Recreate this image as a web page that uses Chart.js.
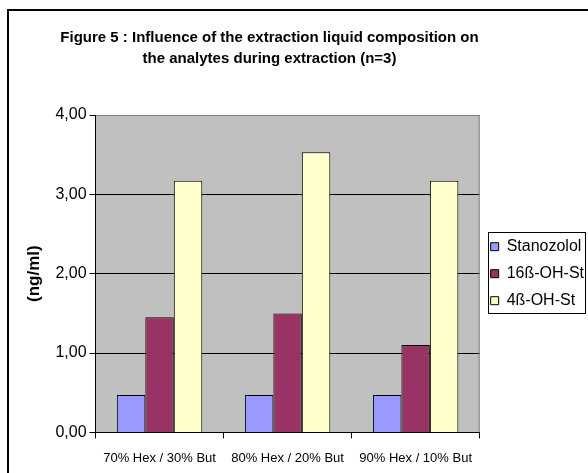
<!DOCTYPE html>
<html>
<head>
<meta charset="utf-8">
<script src="https://cdn.jsdelivr.net/npm/chart.js@4.4.1/dist/chart.umd.min.js"></script>
<style>
  html, body { margin: 0; padding: 0; background: #fff; overflow: hidden; width: 588px; height: 473px; }
  #wrap { position: relative; width: 588px; height: 473px; overflow: hidden; }
  #frame { position: absolute; left: 7px; top: 9px; width: 700px; height: 600px;
           border-left: 2px solid #000; border-top: 2px solid #000; }
  canvas { position: absolute; left: 0; top: 0; }
</style>
</head>
<body>
<div id="wrap">
  <div id="frame"></div>
  <canvas id="c" width="594" height="478"></canvas>
</div>
<script>
// Extraction liquid compositions (x categories)
const categories = ['70% Hex / 30% But', '80% Hex / 20% But', '90% Hex / 10% But'];

// Measured concentrations, ng/ml
const stanozolol = [0.47, 0.47, 0.47];
const oh16 = [1.45, 1.50, 1.10];
const oh4 = [3.17, 3.53, 3.17];

const seriesNames = ['Stanozolol', '16ß-OH-St', '4ß-OH-St'];
const seriesColors = ['#9999FF', '#993366', '#FFFFCC'];

const titleLines = ['Figure 5 : Influence of the extraction liquid composition on',
                    'the analytes during extraction (n=3)'];
const yAxisTitle = '(ng/ml)';
const yMin = 0, yMax = 4, yStep = 1;

const fmtComma = v => Number(v).toFixed(2).replace('.', ',');
const SANS = "'Liberation Sans', Arial, sans-serif";

// Grey plot area, its grey right edge, and the box round the legend
const plotFrame = {
  id: 'plotFrame',
  afterLayout(chart) {
    // centre the title over the chart object rather than the whole canvas
    chart.titleBlock.left = 8;
    chart.titleBlock.right = 531;
  },
  beforeDraw(chart) {
    const { ctx, chartArea: a } = chart;
    ctx.save();
    ctx.fillStyle = '#C0C0C0';
    ctx.fillRect(a.left, a.top, a.width, a.height);
    ctx.restore();
  },
  beforeDatasetsDraw(chart) {
    const { ctx, chartArea: a } = chart;
    ctx.save();
    ctx.strokeStyle = '#808080';
    ctx.lineWidth = 1;
    ctx.beginPath();
    ctx.moveTo(a.right - 0.5, a.top);
    ctx.lineTo(a.right - 0.5, a.bottom);
    ctx.stroke();
    ctx.restore();
  },
  afterDraw(chart) {
    const hb = chart.legend.legendHitBoxes;
    if (!hb || !hb.length) return;
    const first = hb[0], last = hb[hb.length - 1];
    const x0 = Math.round(first.left - 3) + 0.5;
    const y0 = Math.round(first.top - 7) + 0.5;
    const x1 = Math.round(first.left + 94) + 0.5;
    const y1 = Math.round(last.top + last.height + 4) + 0.5;
    const ctx = chart.ctx;
    ctx.save();
    ctx.strokeStyle = '#000';
    ctx.lineWidth = 1;
    ctx.strokeRect(x0, y0, x1 - x0, y1 - y0);
    ctx.restore();
  }
};

const values = [stanozolol, oh16, oh4];

new Chart(document.getElementById('c'), {
  type: 'bar',
  data: {
    labels: categories,
    datasets: seriesNames.map((name, i) => ({
      label: name,
      data: values[i],
      backgroundColor: seriesColors[i],
      borderColor: '#000',
      borderWidth: 1,
      categoryPercentage: 0.667,
      barPercentage: 1.0
    }))
  },
  options: {
    responsive: false,
    animation: false,
    devicePixelRatio: 1,
    layout: { padding: { left: 0, right: 0, top: 0, bottom: 0 } },
    plugins: {
      title: {
        display: true,
        text: titleLines,
        color: '#000',
        font: { family: SANS, size: 15, weight: 'bold', lineHeight: 1.4 },
        padding: { top: 27, bottom: 46 }
      },
      legend: {
        position: 'right',
        fullSize: false,
        labels: {
          color: '#000',
          font: { family: SANS, size: 16 },
          boxWidth: 8,
          boxHeight: 8,
          padding: 11
        }
      },
      tooltip: { enabled: false }
    },
    scales: {
      x: {
        grid: { display: true, drawOnChartArea: false, drawTicks: true, tickLength: 6, color: '#000', offset: true },
        border: { color: '#000', width: 1 },
        ticks: {
          color: '#000',
          padding: 12,
          autoSkip: false,
          maxRotation: 0,
          font: { family: SANS, size: 13 }
        }
      },
      y: {
        min: yMin,
        max: yMax,
        grid: {
          color: ctx => (ctx.tick && ctx.tick.value === yMax ? '#808080' : '#000'),
          tickColor: '#000',
          tickLength: 6,
          lineWidth: 1
        },
        border: { color: '#000', width: 1 },
        ticks: {
          stepSize: yStep,
          color: '#000',
          padding: 3,
          font: { family: SANS, size: 16 },
          callback: v => fmtComma(v)
        },
        title: {
          display: true,
          text: yAxisTitle,
          color: '#000',
          font: { family: SANS, size: 17, weight: 'bold' },
          padding: { top: 24, bottom: 8 }
        }
      }
    }
  },
  plugins: [plotFrame]
});
</script>
</body>
</html>
